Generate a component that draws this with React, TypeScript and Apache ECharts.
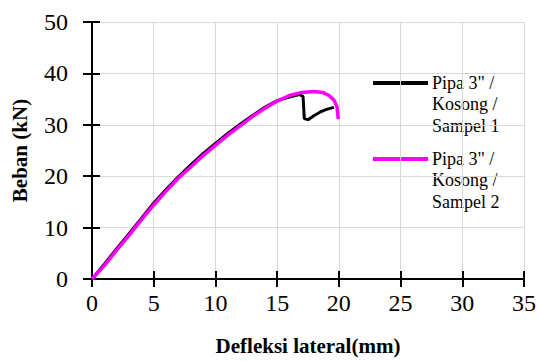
import React, { useEffect, useRef } from "react";
import * as echarts from "echarts";

const seriesNames = ['Pipa 3" /\nKosong /\nSampel 1', 'Pipa 3" /\nKosong /\nSampel 2'];
const seriesColors = ["#000000", "#FF00FF"];

const sampel1: [number, number][] = [
  [0, 0], [1, 2.9], [2, 5.9], [3, 8.8], [4, 11.8], [5, 14.8], [6, 17.4], [7, 19.9],
  [8, 22.2], [9, 24.4], [10, 26.4], [11, 28.3], [12, 30.1], [13, 31.8], [14, 33.4],
  [15, 34.7], [16, 35.4], [16.8, 35.9], [17.1, 35.5], [17.2, 31.2], [17.5, 31.0],
  [18, 31.8], [18.5, 32.5], [19, 33.0], [19.6, 33.4],
];

const sampel2: [number, number][] = [
  [0, 0], [1, 2.6], [2, 5.6], [3, 8.5], [4, 11.5], [5, 14.4], [6, 17.1], [7, 19.6],
  [8, 21.8], [9, 24.0], [10, 26.0], [11, 28.0], [12, 29.8], [13, 31.6], [14, 33.2],
  [15, 34.6], [16, 35.7], [17, 36.3], [18, 36.5], [18.7, 36.3], [19.2, 35.7],
  [19.6, 34.8], [19.85, 33.5], [19.95, 31.1],
];

const xTitle = "Defleksi lateral(mm)";
const yTitle = "Beban (kN)";

const FONT = "Liberation Serif, Times New Roman, serif";

export default function App() {
  const ref = useRef<HTMLDivElement>(null);
  useEffect(() => {
    if (!ref.current) return;
    const chart = echarts.init(ref.current, null, { renderer: "svg" });
    const gridL = 92, gridT = 22, gridR = 16, gridB = 76;
    const tickLabel = { fontFamily: FONT, fontSize: 24, color: "#000" };
    const axisLine = { show: true, lineStyle: { color: "#000", width: 2 } };
    chart.setOption({
      animation: false,
      grid: { left: gridL, top: gridT, right: gridR, bottom: gridB, containLabel: false },
      xAxis: [
        {
          type: "value", min: 0, max: 35, interval: 5,
          axisLine, axisTick: { show: true, length: 8, lineStyle: { color: "#000", width: 2 } },
          axisLabel: { ...tickLabel, margin: 12 },
          splitLine: { show: true, lineStyle: { color: "#d9d9d9", width: 1 } },
          name: xTitle, nameLocation: "middle", nameGap: 56,
          nameTextStyle: { fontFamily: FONT, fontSize: 21, fontWeight: "bold", color: "#000" },
        },
        {
          type: "value", min: 0, max: 35, interval: 5, position: "bottom",
          axisLine: { show: false }, axisTick: { show: true, inside: true, length: 8, lineStyle: { color: "#000", width: 2 } },
          axisLabel: { show: false }, splitLine: { show: false },
        },
      ],
      yAxis: [
        {
          type: "value", min: 0, max: 50, interval: 10,
          axisLine, axisTick: { show: true, length: 9, lineStyle: { color: "#000", width: 2 } },
          axisLabel: { ...tickLabel, margin: 24 },
          splitLine: { show: true, lineStyle: { color: "#d9d9d9", width: 1 } },
          name: yTitle, nameLocation: "middle", nameGap: 62,
          nameTextStyle: { fontFamily: FONT, fontSize: 21, fontWeight: "bold", color: "#000" },
        },
        {
          type: "value", min: 0, max: 50, interval: 10, position: "left",
          axisLine: { show: false }, axisTick: { show: true, inside: true, length: 8, lineStyle: { color: "#000", width: 2 } },
          axisLabel: { show: false }, splitLine: { show: false },
        },
      ],
      series: [
        {
          name: seriesNames[0], type: "line", data: sampel1, showSymbol: false,
          lineStyle: { color: seriesColors[0], width: 3 }, smooth: false,
        },
        {
          name: seriesNames[1], type: "line", data: sampel2, showSymbol: false,
          lineStyle: { color: seriesColors[1], width: 3.5 }, smooth: false,
        },
      ],
      graphic: [
        { type: "line", shape: { x1: 373, y1: 83, x2: 428, y2: 83 }, style: { stroke: seriesColors[0], lineWidth: 4 } },
        { type: "text", x: 432, y: 72, style: { text: seriesNames[0], fontFamily: FONT, fontSize: 18, lineHeight: 21.5, fill: "#000", verticalAlign: "top" } },
        { type: "line", shape: { x1: 373, y1: 159, x2: 428, y2: 159 }, style: { stroke: seriesColors[1], lineWidth: 4 } },
        { type: "text", x: 432, y: 148, style: { text: seriesNames[1], fontFamily: FONT, fontSize: 18, lineHeight: 21.5, fill: "#000", verticalAlign: "top" } },
      ],
    });
    return () => chart.dispose();
  }, []);
  return <div ref={ref} style={{ width: 540, height: 361, position: "absolute", left: 0, top: 0, background: "#fff" }} />;
}
